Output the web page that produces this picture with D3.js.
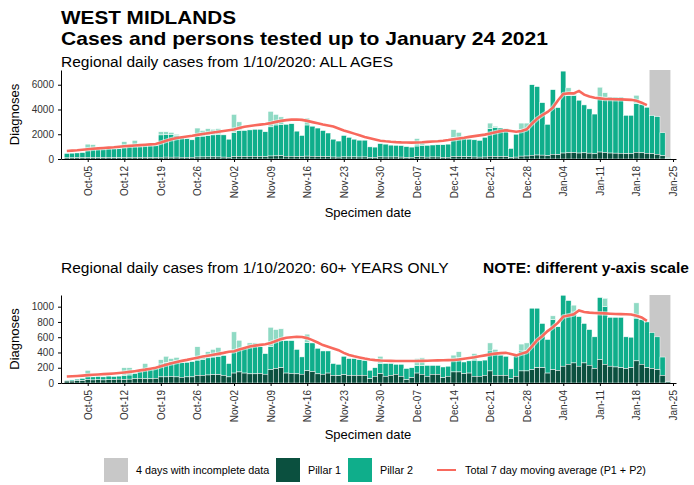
<!DOCTYPE html>
<html>
<head>
<meta charset="utf-8">
<script src="https://cdn.jsdelivr.net/npm/d3@7"></script>
<style>
  body { margin: 0; background: #fff; }
  text { font-family: "Liberation Sans", Arial, sans-serif; }
</style>
</head>
<body>
<svg id="chart" width="694" height="485"></svg>
<script>
// daily values 1 Oct 2020 - 24 Jan 2021 (one row per month)
// ALL AGES: solid bar (P1 + P2), lighter top part, pillar 1, 7 day average
const allTotal = [
  450, 470, 490, 520, 720, 760, 780, 800, 820, 830, 850, 950, 980, 1000, 1020, 1050, 1080, 1100, 1950, 2000, 2000, 1900, 1700, 1650, 1550, 1800, 1850, 1900, 1950, 2000, 1950,
  1600, 2150, 2300, 2300, 2350, 2400, 2400, 2200, 2600, 2750, 2800, 2800, 2850, 2250, 1900, 2750, 2650, 2500, 2300, 2100, 1600, 1450, 1900, 1750, 1600, 1520, 1520, 980, 960, 1240,
  1200, 1120, 1100, 1080, 1000, 960, 1050, 1100, 1100, 1130, 1150, 1150, 1200, 1750, 1750, 1650, 1600, 1550, 1500, 1750, 2450, 2550, 2500, 2450, 850, 2000, 2350, 2400, 6000, 5850, 4550,
  2800, 5600, 4150, 7100, 5150, 5150, 4750, 4370, 4050, 3630, 4950, 4950, 5000, 5000, 5000, 3530, 3530, 4500, 4420, 4180, 3500, 3420, 2120, 110
];
const allLight = [
  0, 0, 0, 0, 480, 400, 0, 0, 0, 0, 0, 450, 0, 500, 0, 0, 0, 0, 250, 200, 150, 100, 0, 0, 0, 700, 450, 550, 450, 450, 0,
  0, 1450, 700, 0, 0, 0, 0, 0, 1250, 850, 600, 0, 0, 0, 0, 550, 0, 0, 0, 0, 0, 0, 0, 0, 0, 0, 0, 0, 0, 0,
  0, 0, 0, 0, 0, 0, 600, 300, 0, 0, 0, 0, 0, 620, 400, 0, 0, 0, 0, 0, 450, 100, 0, 0, 0, 0, 550, 500, 0, 0, 0,
  0, 0, 0, 0, 600, 250, 0, 0, 0, 0, 850, 400, 0, 0, 0, 0, 0, 650, 0, 0, 0, 0, 0, 0
];
const allPillar1 = [
  90, 95, 100, 100, 110, 115, 110, 115, 120, 110, 110, 120, 125, 130, 125, 130, 120, 125, 140, 150, 145, 150, 140, 135, 140, 160, 165, 170, 170, 165, 150,
  140, 200, 210, 200, 205, 210, 200, 190, 240, 250, 260, 220, 215, 200, 190, 230, 220, 200, 200, 190, 160, 150, 170, 165, 170, 160, 165, 120, 130, 170,
  160, 160, 165, 150, 120, 130, 180, 170, 150, 165, 160, 130, 140, 200, 200, 180, 180, 160, 150, 160, 220, 200, 200, 190, 110, 150, 230, 240, 300, 320, 310,
  260, 380, 350, 480, 500, 520, 480, 500, 470, 420, 560, 520, 480, 470, 460, 430, 440, 540, 500, 460, 430, 380, 260, 40
];
const allAvg = [
  650, 680, 710, 750, 790, 830, 860, 890, 920, 950, 990, 1030, 1060, 1090, 1120, 1150, 1180, 1210, 1330, 1470, 1600, 1700, 1760, 1820, 1880, 1950, 2020, 2080, 2140, 2200, 2260,
  2320, 2380, 2500, 2600, 2660, 2720, 2780, 2830, 2900, 3000, 3080, 3140, 3180, 3190, 3160, 3080, 2980, 2880, 2780, 2700, 2620, 2460, 2300, 2180, 2050, 1920, 1780, 1680, 1580, 1480,
  1430, 1390, 1360, 1340, 1330, 1320, 1330, 1350, 1380, 1410, 1440, 1480, 1530, 1600, 1660, 1720, 1790, 1850, 1910, 1970, 2060, 2160, 2250, 2320, 2260, 2200, 2260, 2400, 2850, 3250, 3550,
  3800, 4150, 4750, 5250, 5300, 5300, 5500, 5200, 5050, 4950, 4900, 4850, 4850, 4830, 4820, 4800, 4780, 4700, 4550, 4350, null, null, null, null
];

// 60+ YEARS ONLY
const oldTotal = [
  35, 40, 50, 60, 90, 80, 88, 80, 90, 85, 90, 100, 105, 125, 150, 170, 175, 190, 250, 270, 280, 290, 265, 270, 280, 300, 310, 330, 340, 350, 360,
  255, 420, 440, 450, 470, 480, 475, 385, 480, 560, 560, 555, 555, 440, 342, 530, 525, 455, 420, 420, 255, 245, 350, 320, 320, 307, 298, 167, 200, 255,
  255, 255, 245, 245, 190, 200, 230, 230, 230, 230, 230, 210, 220, 300, 330, 275, 290, 300, 290, 300, 420, 380, 365, 350, 185, 365, 420, 420, 980, 980, 780,
  570, 830, 737, 1150, 1080, 930, 870, 780, 700, 605, 1120, 1000, 860, 860, 860, 605, 600, 850, 830, 800, 660, 605, 340, 25
];
const oldLight = [
  0, 0, 0, 0, 75, 0, 0, 0, 0, 0, 0, 100, 95, 0, 0, 85, 0, 0, 55, 80, 40, 45, 0, 0, 0, 175, 30, 80, 100, 115, 0,
  0, 250, 120, 0, 55, 45, 0, 0, 250, 140, 150, 0, 0, 0, 0, 110, 0, 0, 0, 0, 0, 0, 0, 0, 0, 0, 0, 0, 0, 95,
  0, 0, 0, 0, 0, 0, 90, 100, 0, 0, 0, 0, 0, 65, 80, 0, 0, 85, 0, 0, 105, 60, 0, 0, 0, 0, 90, 105, 0, 0, 0,
  0, 50, 0, 0, 0, 90, 0, 0, 0, 0, 0, 110, 0, 0, 0, 0, 0, 200, 0, 0, 0, 0, 0, 0
];
const oldPillar1 = [
  25, 25, 30, 30, 45, 40, 45, 40, 45, 45, 50, 45, 50, 55, 60, 55, 55, 60, 80, 80, 85, 80, 75, 80, 80, 100, 100, 105, 110, 110, 100,
  80, 130, 145, 130, 120, 120, 125, 115, 175, 190, 200, 130, 125, 120, 115, 160, 150, 120, 115, 130, 100, 95, 110, 100, 100, 100, 100, 57, 88, 123,
  88, 100, 114, 88, 44, 70, 130, 114, 88, 114, 114, 70, 88, 145, 145, 123, 130, 88, 88, 100, 158, 100, 100, 100, 57, 88, 158, 158, 175, 200, 200,
  130, 175, 165, 220, 245, 263, 220, 263, 232, 190, 307, 245, 220, 210, 200, 190, 200, 290, 245, 200, 190, 175, 100, 15
];
const oldAvg = [
  85, 88, 92, 97, 103, 108, 112, 116, 120, 125, 131, 138, 146, 155, 165, 175, 187, 200, 220, 240, 258, 275, 290, 303, 318, 332, 346, 358, 370, 382, 395,
  410, 415, 440, 460, 478, 490, 500, 508, 525, 550, 575, 592, 600, 605, 603, 588, 562, 530, 497, 475, 452, 430, 395, 368, 350, 335, 320, 308, 300, 295,
  292, 290, 289, 288, 288, 288, 289, 290, 292, 294, 296, 298, 300, 302, 308, 318, 328, 338, 350, 362, 375, 385, 392, 395, 380, 362, 385, 405, 480, 560, 615,
  680, 730, 790, 870, 885, 900, 950, 930, 922, 918, 915, 912, 908, 904, 902, 900, 898, 880, 858, 815, null, null, null, null
];

const allYTicks = [0, 2000, 4000, 6000];
const oldYTicks = [0, 200, 400, 600, 800, 1000];
const xTickDates = ["2020-10-05", "2020-10-12", "2020-10-19", "2020-10-26", "2020-11-02", "2020-11-09", "2020-11-16",
  "2020-11-23", "2020-11-30", "2020-12-07", "2020-12-14", "2020-12-21", "2020-12-28", "2021-01-04", "2021-01-11",
  "2021-01-18", "2021-01-25"];
const incompleteDays = 4;

const colP1 = "#0b503f";
const colP2 = "#0fae8b";
const colLight = "#8fdac4";
const colAvg = "#f8695d";
const colGrey = "#c8c8c8";

const dates = d3.utcDay.range(new Date(Date.UTC(2020, 9, 1)), new Date(Date.UTC(2021, 0, 25)));
const parseDay = d3.utcParse("%Y-%m-%d");

const svg = d3.select("#chart");

// shared date scale
const x = d3.scaleUtc()
  .domain([new Date(Date.UTC(2020, 8, 29, 21, 20)), new Date(Date.UTC(2021, 0, 25, 13, 40))])
  .range([61, 676]);
const dayW = x(dates[1]) - x(dates[0]);

// titles
svg.append("text").attr("x", 61).attr("y", 24)
  .attr("font-size", 19).attr("font-weight", "bold")
  .attr("textLength", 175).attr("lengthAdjust", "spacingAndGlyphs")
  .text("WEST MIDLANDS");
svg.append("text").attr("x", 61).attr("y", 45)
  .attr("font-size", 19).attr("font-weight", "bold")
  .attr("textLength", 487).attr("lengthAdjust", "spacingAndGlyphs")
  .text("Cases and persons tested up to January 24 2021");

const panels = [
  { sub: "Regional daily cases from 1/10/2020: ALL AGES", subY: 67,
    total: allTotal, light: allLight, p1: allPillar1, avg: allAvg,
    ticks: allYTicks, yMax: 7190, top: 70, bottom: 159, labY: 217 },
  { sub: "Regional daily cases from 1/10/2020: 60+ YEARS ONLY", subY: 273,
    total: oldTotal, light: oldLight, p1: oldPillar1, avg: oldAvg,
    ticks: oldYTicks, yMax: 1153, top: 295, bottom: 383, labY: 439 }
];

panels.forEach(function (p) {
  const y = d3.scaleLinear().domain([0, p.yMax]).range([p.bottom, p.top]);
  const rows = dates.map((d, i) => ({
    date: d, p1: p.p1[i], total: p.total[i], light: p.light[i], avg: p.avg[i]
  }));

  svg.append("text").attr("x", 61).attr("y", p.subY)
    .attr("font-size", 15.5).text(p.sub);

  const g = svg.append("g");

  // incomplete days band
  const firstInc = dates[dates.length - incompleteDays];
  const lastDay = dates[dates.length - 1];
  g.append("rect")
    .attr("x", x(firstInc) - dayW / 2)
    .attr("y", p.top)
    .attr("width", x(lastDay) - x(firstInc) + dayW)
    .attr("height", p.bottom - p.top)
    .attr("fill", colGrey);

  // pillar 2 (stacked on pillar 1)
  g.selectAll(".p2").data(rows).join("rect")
    .attr("class", "p2")
    .attr("x", (d) => x(d.date) - dayW / 2)
    .attr("width", dayW)
    .attr("y", (d) => y(d.total))
    .attr("height", (d) => y(d.p1) - y(d.total))
    .attr("fill", colP2)
    .attr("stroke", "#fff").attr("stroke-width", 0.5);

  // lighter top part
  g.selectAll(".lt").data(rows.filter((d) => d.light > 0)).join("rect")
    .attr("class", "lt")
    .attr("x", (d) => x(d.date) - dayW / 2)
    .attr("width", dayW)
    .attr("y", (d) => y(d.total + d.light))
    .attr("height", (d) => y(d.total) - y(d.total + d.light))
    .attr("fill", colLight)
    .attr("stroke", "#fff").attr("stroke-width", 0.5);

  // pillar 1
  g.selectAll(".p1").data(rows).join("rect")
    .attr("class", "p1")
    .attr("x", (d) => x(d.date) - dayW / 2)
    .attr("width", dayW)
    .attr("y", (d) => y(d.p1))
    .attr("height", (d) => y(0) - y(d.p1))
    .attr("fill", colP1)
    .attr("stroke", "#fff").attr("stroke-width", 0.5);

  // 7 day average
  const line = d3.line()
    .defined((d) => d.avg != null)
    .x((d) => x(d.date))
    .y((d) => y(d.avg));
  g.append("path").datum(rows)
    .attr("d", line).attr("fill", "none")
    .attr("stroke", "#fff").attr("stroke-opacity", 0.6).attr("stroke-width", 4.5);
  g.append("path").datum(rows)
    .attr("d", line).attr("fill", "none")
    .attr("stroke", colAvg).attr("stroke-width", 2.6);

  // axes
  const yAxis = svg.append("g")
    .attr("transform", "translate(61,0)")
    .call(d3.axisLeft(y).tickValues(p.ticks).tickFormat(d3.format("d"))
      .tickSize(3).tickSizeOuter(0).tickPadding(4));
  yAxis.selectAll("text").attr("font-size", 10).attr("fill", "#333").attr("font-family", null);

  const xAxis = svg.append("g")
    .attr("transform", `translate(0,${p.bottom})`)
    .call(d3.axisBottom(x)
      .tickValues(xTickDates.map(parseDay))
      .tickFormat(d3.utcFormat("%b-%d"))
      .tickSize(3).tickSizeOuter(0));
  xAxis.selectAll("text")
    .attr("transform", "rotate(-90)")
    .attr("x", -7).attr("y", 0).attr("dy", "0.35em")
    .style("text-anchor", "end")
    .attr("font-size", 10).attr("fill", "#333").attr("font-family", null);

  // axis titles
  svg.append("text")
    .attr("transform", `translate(19,${(p.top + p.bottom) / 2}) rotate(-90)`)
    .attr("text-anchor", "middle").attr("font-size", 13)
    .text("Diagnoses");
  svg.append("text")
    .attr("x", 368).attr("y", p.labY)
    .attr("text-anchor", "middle").attr("font-size", 13)
    .text("Specimen date");
});

svg.append("text").attr("x", 483).attr("y", 273)
  .attr("font-size", 15.5).attr("font-weight", "bold")
  .text("NOTE: different y-axis scale");

// legend
const legendItems = [
  { key: "rect", color: colGrey, x: 104, label: "4 days with incomplete data" },
  { key: "rect", color: colP1, x: 276, label: "Pillar 1" },
  { key: "rect", color: colP2, x: 348, label: "Pillar 2" },
  { key: "line", color: colAvg, x: 437, label: "Total 7 day moving average (P1 + P2)" }
];
const legend = svg.append("g");
legendItems.forEach(function (it) {
  if (it.key === "rect") {
    legend.append("rect").attr("x", it.x).attr("y", 458)
      .attr("width", 24).attr("height", 24).attr("fill", it.color);
    legend.append("text").attr("x", it.x + 32).attr("y", 473.5)
      .attr("font-size", 10.8).text(it.label);
  } else {
    legend.append("line").attr("x1", it.x).attr("x2", it.x + 19)
      .attr("y1", 470).attr("y2", 470)
      .attr("stroke", it.color).attr("stroke-width", 2);
    legend.append("text").attr("x", it.x + 28).attr("y", 473.5)
      .attr("font-size", 10.8).text(it.label);
  }
});
</script>
</body>
</html>
